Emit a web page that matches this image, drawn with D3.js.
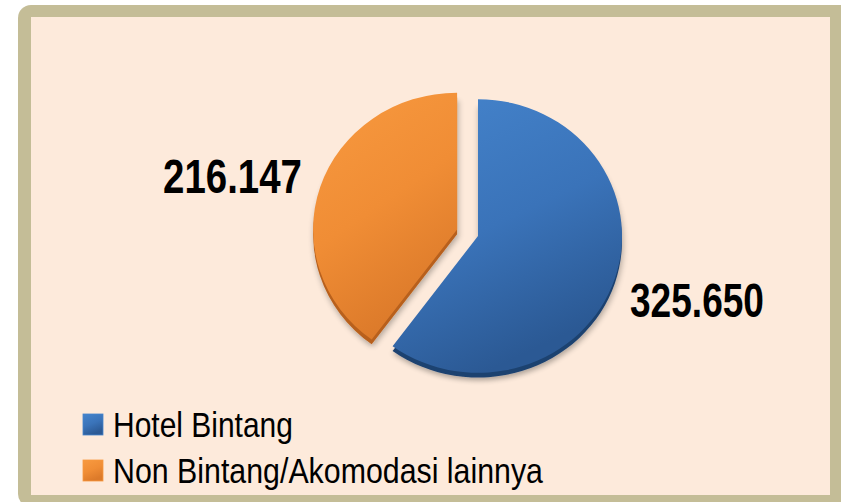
<!DOCTYPE html>
<html>
<head>
<meta charset="utf-8">
<script src="https://cdn.jsdelivr.net/npm/d3@7"></script>
<style>
  html, body { margin: 0; padding: 0; background: #fff; }
  svg { display: block; }
</style>
</head>
<body>
<svg id="chart"></svg>
<script>
const width = 841;
const height = 502;

const categories = ['Hotel Bintang', 'Non Bintang/Akomodasi lainnya'];
const values = [325650, 216147];
const valueLabels = ['325.650', '216.147'];

const colors = ['#3a73b9', '#f08d35'];
const lightColors = ['#4584cc', '#f89a40'];
const darkColors = ['#2b5994', '#dc7a2a'];
const edgeColors = ['#1f4270', '#b8601c'];

const cx = 478;
const cy = 236;
const radius = 144;
const squash = 0.95;
const explode = [0, 22];

const data = categories.map((c, i) => ({ name: c, value: values[i], label: valueLabels[i], i }));

const svg = d3.select('#chart')
    .attr('width', width)
    .attr('height', height);

// frame
svg.append('rect')
    .attr('x', 18).attr('y', 5)
    .attr('width', width).attr('height', height)
    .attr('rx', 13)
    .attr('fill', '#c4bd97');

svg.append('rect')
    .attr('x', 31).attr('y', 17)
    .attr('width', 799).attr('height', 478)
    .attr('fill', '#fdeadb');

const defs = svg.append('defs');

data.forEach((d) => {
    const g = defs.append('linearGradient')
        .attr('id', `grad${d.i}`)
        .attr('x1', '0').attr('y1', '0')
        .attr('x2', '0.4').attr('y2', '1');
    g.append('stop').attr('offset', '0%').attr('stop-color', lightColors[d.i]);
    g.append('stop').attr('offset', '55%').attr('stop-color', colors[d.i]);
    g.append('stop').attr('offset', '100%').attr('stop-color', darkColors[d.i]);
});

const shadow = defs.append('filter')
    .attr('id', 'shadow')
    .attr('x', '-20%').attr('y', '-20%')
    .attr('width', '140%').attr('height', '140%');
shadow.append('feGaussianBlur').attr('in', 'SourceAlpha').attr('stdDeviation', 3);
shadow.append('feOffset').attr('dx', 1).attr('dy', 3).attr('result', 'b');
shadow.append('feComponentTransfer').append('feFuncA').attr('type', 'linear').attr('slope', 0.3);
const merge = shadow.append('feMerge');
merge.append('feMergeNode');
merge.append('feMergeNode').attr('in', 'SourceGraphic');

const pie = d3.pie()
    .sort(null)
    .value((d) => d.value);

const arc = d3.arc()
    .innerRadius(0)
    .outerRadius(radius);

const arcs = pie(data);

const pieG = svg.append('g')
    .attr('transform', `translate(${cx},${cy}) scale(1,${squash})`);

const slice = pieG.selectAll('g.slice')
    .data(arcs)
    .enter()
    .append('g')
        .attr('class', 'slice')
        .attr('transform', (d) => {
            const a = (d.startAngle + d.endAngle) / 2;
            const off = explode[d.data.i];
            return `translate(${Math.sin(a) * off},${-Math.cos(a) * off})`;
        });

// side edge (thickness)
slice.append('path')
    .attr('d', arc)
    .attr('transform', 'translate(0,5)')
    .attr('fill', (d) => edgeColors[d.data.i])
    .attr('filter', 'url(#shadow)');

slice.append('path')
    .attr('d', arc)
    .attr('fill', (d) => `url(#grad${d.data.i})`);

// fit a narrow look: squeeze text horizontally to a target width
function fitWidth(sel, targetFn) {
    sel.each(function (d) {
        const t = d3.select(this);
        const w = this.getComputedTextLength();
        const k = targetFn(d) / w;
        const x = +t.attr('data-x');
        const y = +t.attr('data-y');
        t.attr('transform', `translate(${x},${y}) scale(${k},1)`);
    });
}

// value labels
const labelPos = [
    { x: 630, y: 317, w: 134 },
    { x: 163, y: 193, w: 139 }
];

const valueText = svg.selectAll('text.value')
    .data(data)
    .enter()
    .append('text')
        .attr('class', 'value')
        .attr('data-x', (d) => labelPos[d.i].x)
        .attr('data-y', (d) => labelPos[d.i].y)
        .style('font-family', '"Liberation Sans", Arial, sans-serif')
        .style('font-weight', 'bold')
        .style('font-size', '48px')
        .attr('fill', '#000')
        .text((d) => d.label);
fitWidth(valueText, (d) => labelPos[d.i].w);

// legend
const legendWidths = [180, 430];

const legend = svg.append('g')
    .attr('transform', 'translate(83, 414)');

const item = legend.selectAll('g.item')
    .data(data)
    .enter()
    .append('g')
        .attr('class', 'item')
        .attr('transform', (d) => `translate(0, ${d.i * 46})`);

item.append('rect')
    .attr('width', 20)
    .attr('height', 21)
    .attr('fill', (d) => `url(#grad${d.i})`)
    .attr('stroke', (d) => lightColors[d.i])
    .attr('stroke-width', 0.8);

const legendText = item.append('text')
    .attr('data-x', 30)
    .attr('data-y', 23)
    .style('font-family', '"Liberation Sans", Arial, sans-serif')
    .style('font-size', '35px')
    .attr('fill', '#000')
    .text((d) => d.name);
fitWidth(legendText, (d) => legendWidths[d.i]);
</script>
</body>
</html>
